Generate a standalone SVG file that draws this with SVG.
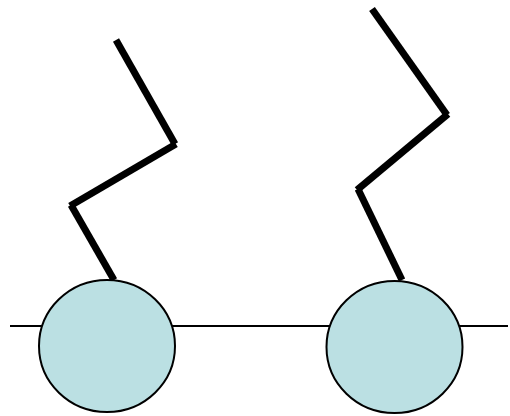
<svg xmlns="http://www.w3.org/2000/svg" width="510" height="416" viewBox="0 0 510 416">
<style>
.zz{stroke:#000;stroke-width:7;stroke-linecap:butt;fill:none}
.node{fill:#BBE0E3;stroke:#000;stroke-width:2}
</style>
<rect width="510" height="416" fill="#fff"/>
<g id="connectors">
<line x1="10" y1="326" x2="508" y2="326" stroke="#000" stroke-width="2"/>
<line class="zz" x1="116" y1="40" x2="175" y2="144"/>
<line class="zz" x1="176" y1="144" x2="70" y2="206"/>
<line class="zz" x1="71" y1="205" x2="114" y2="280"/>
<line class="zz" x1="372" y1="9" x2="447" y2="115"/>
<line class="zz" x1="448" y1="114" x2="357" y2="190"/>
<line class="zz" x1="358" y1="189" x2="402" y2="280"/>
</g>
<g id="node1"><ellipse class="node" cx="107" cy="346" rx="68" ry="66"/></g>
<g id="node2"><ellipse class="node" cx="394.5" cy="347" rx="68" ry="66"/></g>
</svg>
